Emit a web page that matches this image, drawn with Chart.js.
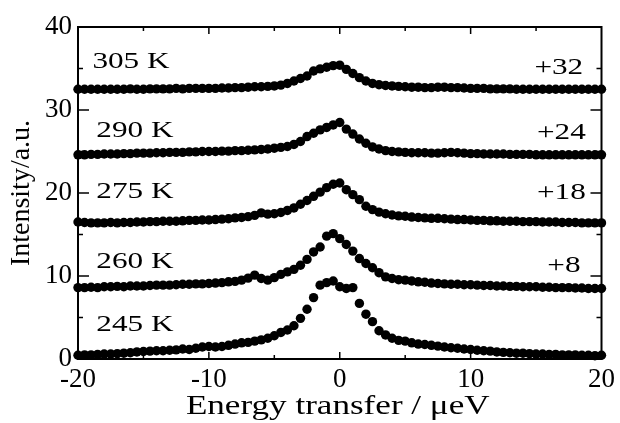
<!DOCTYPE html>
<html>
<head>
<meta charset="utf-8">
<script src="https://cdn.jsdelivr.net/npm/chart.js@4.4.1/dist/chart.umd.min.js"></script>
<style>
  html, body { margin: 0; padding: 0; background: #fff; }
  #wrap { width: 620px; height: 423px; position: relative; }
</style>
</head>
<body>
<div id="wrap"><canvas id="qens"></canvas></div>
<script>
// energy transfer grid (µeV)
const energy = [];
for (let i = 0; i <= 80; i++) energy.push(-20 + i * 0.5);

// intensities (offsets already included)
const t245 = [
  0.45, 0.50, 0.50, 0.55, 0.60, 0.60, 0.65, 0.70, 0.75, 0.85,
  0.90, 0.95, 1.00, 1.00, 1.05, 1.10, 1.20, 1.15, 1.30, 1.45,
  1.50, 1.45, 1.50, 1.65, 1.80, 1.95, 2.00, 2.15, 2.30, 2.50,
  2.80, 3.20, 3.50, 4.00, 4.90, 6.00, 7.40, 8.90, 9.20, 9.40,
  8.70, 8.50, 8.60, 6.70, 5.40, 4.50, 3.40, 2.90, 2.50, 2.25,
  2.15, 1.95, 1.80, 1.75, 1.65, 1.55, 1.45, 1.35, 1.30, 1.20,
  1.15, 1.05, 1.00, 0.95, 0.85, 0.80, 0.75, 0.70, 0.70, 0.65,
  0.60, 0.60, 0.55, 0.55, 0.50, 0.50, 0.50, 0.45, 0.45, 0.40,
  0.45
];
const t260 = [
  8.60, 8.60, 8.65, 8.60, 8.70, 8.70, 8.75, 8.70, 8.80, 8.80,
  8.80, 8.85, 8.90, 8.90, 8.90, 8.95, 9.00, 9.00, 9.05, 9.05,
  9.10, 9.15, 9.20, 9.30, 9.35, 9.50, 9.75, 10.10, 9.70, 9.50,
  9.80, 10.20, 10.50, 10.80, 11.30, 12.00, 12.90, 13.50, 14.80, 15.10,
  14.50, 13.80, 13.00, 12.10, 11.50, 11.00, 10.40, 9.90, 9.70, 9.55,
  9.50, 9.40, 9.30, 9.25, 9.15, 9.10, 9.05, 9.00, 9.00, 8.95,
  8.95, 8.90, 8.85, 8.85, 8.80, 8.80, 8.75, 8.75, 8.70, 8.70,
  8.70, 8.65, 8.65, 8.60, 8.60, 8.60, 8.55, 8.55, 8.50, 8.50,
  8.50
];
const t275 = [
  16.50, 16.45, 16.40, 16.40, 16.40, 16.45, 16.40, 16.45, 16.45, 16.50,
  16.50, 16.55, 16.55, 16.60, 16.60, 16.60, 16.65, 16.70, 16.70, 16.75,
  16.75, 16.80, 16.85, 16.90, 17.00, 17.05, 17.15, 17.30, 17.60, 17.45,
  17.50, 17.65, 17.90, 18.20, 18.65, 19.10, 19.60, 20.10, 20.65, 21.05,
  21.20, 20.40, 19.80, 19.20, 18.40, 18.00, 17.70, 17.50, 17.35, 17.25,
  17.20, 17.10, 17.05, 17.00, 16.95, 16.95, 16.90, 16.85, 16.80, 16.80,
  16.75, 16.70, 16.70, 16.65, 16.65, 16.60, 16.60, 16.60, 16.55, 16.55,
  16.55, 16.50, 16.50, 16.50, 16.45, 16.45, 16.45, 16.40, 16.40, 16.40,
  16.40
];
const t290 = [
  24.60, 24.60, 24.65, 24.65, 24.70, 24.70, 24.70, 24.75, 24.75, 24.80,
  24.80, 24.80, 24.85, 24.85, 24.90, 24.90, 24.90, 24.95, 24.95, 25.00,
  25.00, 25.00, 25.05, 25.05, 25.10, 25.10, 25.15, 25.20, 25.25, 25.30,
  25.40, 25.50, 25.60, 25.85, 26.20, 26.80, 27.20, 27.60, 27.90, 28.20,
  28.50, 27.70, 27.10, 26.50, 26.00, 25.55, 25.30, 25.10, 25.00, 24.95,
  24.90, 24.85, 24.85, 24.85, 24.80, 24.80, 24.85, 24.90, 24.85, 24.80,
  24.75, 24.75, 24.70, 24.70, 24.70, 24.70, 24.65, 24.65, 24.65, 24.65,
  24.60, 24.60, 24.60, 24.60, 24.60, 24.60, 24.60, 24.60, 24.60, 24.60,
  24.60
];
const t305 = [
  32.50, 32.50, 32.50, 32.50, 32.50, 32.50, 32.50, 32.50, 32.55, 32.50,
  32.50, 32.55, 32.55, 32.55, 32.55, 32.60, 32.55, 32.60, 32.60, 32.60,
  32.60, 32.60, 32.65, 32.65, 32.70, 32.70, 32.75, 32.80, 32.80, 32.85,
  32.90, 33.00, 33.20, 33.50, 33.80, 34.10, 34.70, 34.95, 35.15, 35.35,
  35.40, 34.90, 34.40, 33.90, 33.50, 33.20, 33.05, 32.95, 32.90, 32.85,
  32.80, 32.75, 32.75, 32.70, 32.70, 32.75, 32.75, 32.70, 32.70, 32.65,
  32.60, 32.60, 32.60, 32.55, 32.55, 32.55, 32.55, 32.50, 32.50, 32.50,
  32.50, 32.50, 32.50, 32.50, 32.50, 32.50, 32.50, 32.50, 32.50, 32.50,
  32.50
];

const series = [t245, t260, t275, t290, t305];
const tempLabels = ['245 K', '260 K', '275 K', '290 K', '305 K'];
const tempLabelPos = [[-18.6, 4.1], [-18.6, 11.7], [-18.6, 20.1], [-18.6, 27.5], [-18.9, 35.8]];
const offsetLabels = ['+8', '+18', '+24', '+32'];
const offsetLabelPos = [[18.4, 11.3], [18.8, 20.0], [18.8, 27.3], [18.6, 35.1]];
const xTitle = 'Energy transfer / μeV';

const serif = '"Liberation Serif", "Times New Roman", serif';
const stretch = 1.3; // original lettering is wider than Times

function wideText(ctx, text, px, py, align) {
  const w = ctx.measureText(text).width * stretch;
  let left = px;
  if (align === 'right') left = px - w;
  else if (align === 'center') left = px - w / 2;
  ctx.save();
  ctx.translate(left, py);
  ctx.scale(stretch, 1);
  ctx.textAlign = 'left';
  ctx.fillText(text, 0, 0);
  ctx.restore();
}

// frame with inward ticks + curve labels
const framePlugin = {
  id: 'frame',
  afterDatasetsDraw(chart) {
    const { ctx, chartArea: a, scales: { x, y } } = chart;
    ctx.save();
    ctx.strokeStyle = '#000';
    ctx.lineWidth = 2;
    ctx.strokeRect(a.left, a.top, a.right - a.left, a.bottom - a.top);
    ctx.lineWidth = 1.5;
    ctx.beginPath();
    for (let v = -15; v <= 15; v += 5) {
      const px = x.getPixelForValue(v);
      const len = v % 10 === 0 ? 7 : 4;
      ctx.moveTo(px, a.bottom); ctx.lineTo(px, a.bottom - len);
      ctx.moveTo(px, a.top); ctx.lineTo(px, a.top + len);
    }
    for (let v = 5; v <= 35; v += 5) {
      const py = y.getPixelForValue(v);
      const len = v % 10 === 0 ? 11 : 5;
      ctx.moveTo(a.left, py); ctx.lineTo(a.left + len, py);
      ctx.moveTo(a.right, py); ctx.lineTo(a.right - len, py);
    }
    ctx.stroke();

    ctx.fillStyle = '#000';
    ctx.font = '24px ' + serif;
    ctx.textBaseline = 'middle';
    tempLabels.forEach((t, i) => {
      wideText(ctx, t, x.getPixelForValue(tempLabelPos[i][0]), y.getPixelForValue(tempLabelPos[i][1]), 'left');
    });
    offsetLabels.forEach((t, i) => {
      wideText(ctx, t, x.getPixelForValue(offsetLabelPos[i][0]), y.getPixelForValue(offsetLabelPos[i][1]), 'right');
    });

    // x axis title
    ctx.font = '27px ' + serif;
    ctx.textBaseline = 'alphabetic';
    wideText(ctx, xTitle, (a.left + a.right) / 2 - 2, 414, 'center');
    ctx.restore();
  }
};

new Chart(document.getElementById('qens'), {
  type: 'scatter',
  data: {
    datasets: series.map((s, k) => ({
      label: tempLabels[k],
      data: energy.map((e, i) => ({ x: e, y: s[i] })),
      showLine: false,
      pointRadius: 4.7,
      pointHoverRadius: 4.7,
      pointBorderWidth: 0,
      pointBackgroundColor: '#000',
      borderColor: '#000',
      clip: false,
    })),
  },
  options: {
    responsive: true,
    maintainAspectRatio: false,
    animation: false,
    events: [],
    layout: { padding: { top: 27, right: 14, left: 0, bottom: 0 } },
    plugins: { legend: { display: false }, tooltip: { enabled: false } },
    scales: {
      x: {
        type: 'linear',
        min: -20, max: 20,
        grid: { display: false, drawTicks: false },
        border: { display: false },
        ticks: { stepSize: 10, color: '#000', padding: 5, font: { family: serif, size: 27 } },
        title: { display: false },
        afterFit: s => { s.height = 64; },
      },
      y: {
        min: 0, max: 40,
        grid: { display: false, drawTicks: false },
        border: { display: false },
        ticks: { stepSize: 10, color: '#000', padding: 6, font: { family: serif, size: 27 } },
        title: {
          display: true, text: 'Intensity/a.u.', color: '#000',
          font: { family: serif, size: 28, lineHeight: 1 }, padding: { top: 8, bottom: 0 },
        },
        afterFit: s => { s.width = 78; },
      },
    },
  },
  plugins: [framePlugin],
});
</script>
</body>
</html>
